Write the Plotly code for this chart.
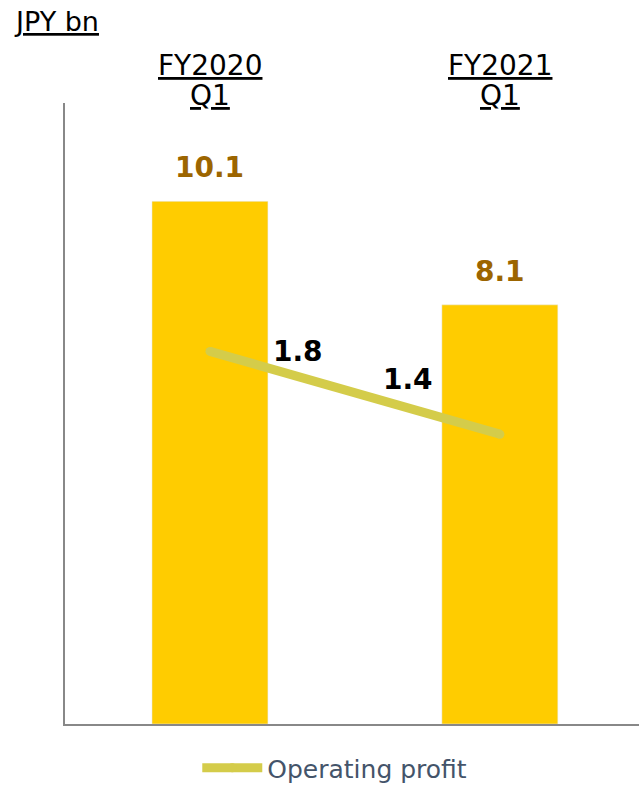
import plotly.graph_objects as go

categories = ["FY2020<br>Q1", "FY2021<br>Q1"]
cat_labels = [("FY2020", "Q1"), ("FY2021", "Q1")]
net_sales = [10.1, 8.1]
operating_profit = [1.8, 1.4]

BAR_COLOR = "#FFCC00"
LINE_COLOR = "#D4CC4A"
LABEL_GOLD = "#9C6500"
FONT = "DejaVu Sans"

fig = go.Figure()
fig.add_trace(go.Bar(x=categories, y=net_sales, marker_color=BAR_COLOR,
                     width=0.4, showlegend=False, name="Net sales"))
fig.add_trace(go.Scatter(x=categories, y=operating_profit, yaxis="y2",
                         mode="lines+markers", name="Operating profit",
                         line=dict(color=LINE_COLOR, width=9),
                         marker=dict(color=LINE_COLOR, size=9)))

annotations = []
# bar value labels
for c, v in zip(categories, net_sales):
    annotations.append(dict(x=c, y=v, xref="x", yref="y", text="<b>%.1f</b>" % v,
                            showarrow=False, yanchor="bottom", yshift=15,
                            font=dict(size=28, color=LABEL_GOLD, family=FONT)))
# line value labels
shifts = [(88, 0), (-92, 55)]
for c, v, (dx, dy) in zip(categories, operating_profit, shifts):
    annotations.append(dict(x=c, y=v, xref="x", yref="y2", text="<b>%.1f</b>" % v,
                            showarrow=False, xshift=dx, yshift=dy,
                            font=dict(size=28, color="black", family=FONT)))
# category headers on top (two lines each, tight spacing)
for c, (a, b) in zip(categories, cat_labels):
    for txt, yy in ((a, 1.0596), (b, 1.0113)):
        annotations.append(dict(x=c, y=yy, xref="x", yref="paper",
                                text="<u>%s</u>" % txt, showarrow=False,
                                yanchor="middle",
                                font=dict(size=28, color="black", family=FONT)))
annotations.append(dict(x=-0.092, y=1.159, xref="paper", yref="paper",
                        text="<u>JPY bn</u>", showarrow=False,
                        xanchor="left", yanchor="top",
                        font=dict(size=27, color="black", family=FONT)))

fig.update_layout(
    width=639, height=785,
    margin=dict(l=65, r=0, t=103, b=61, autoexpand=False),
    paper_bgcolor="white", plot_bgcolor="white",
    font=dict(family=FONT, color="#44546A"),
    xaxis=dict(range=[-0.5, 1.48], showticklabels=False, showgrid=False,
               showline=True, linecolor="#888888", linewidth=2, zeroline=False,
               ticks=""),
    yaxis=dict(range=[0, 12], showticklabels=False, showgrid=False,
               showline=True, linecolor="#888888", linewidth=2, zeroline=False,
               ticks=""),
    yaxis2=dict(range=[0, 3], overlaying="y", showticklabels=False,
                showgrid=False, showline=False, zeroline=False),
    legend=dict(orientation="h", x=0.47, xanchor="center", y=-0.034,
                yanchor="top", font=dict(size=25, color="#44546A", family=FONT),
                itemwidth=60),
    annotations=annotations,
)

fig.write_html("out.html", config={"displayModeBar": False},
               post_script="document.body.style.margin='0';")
